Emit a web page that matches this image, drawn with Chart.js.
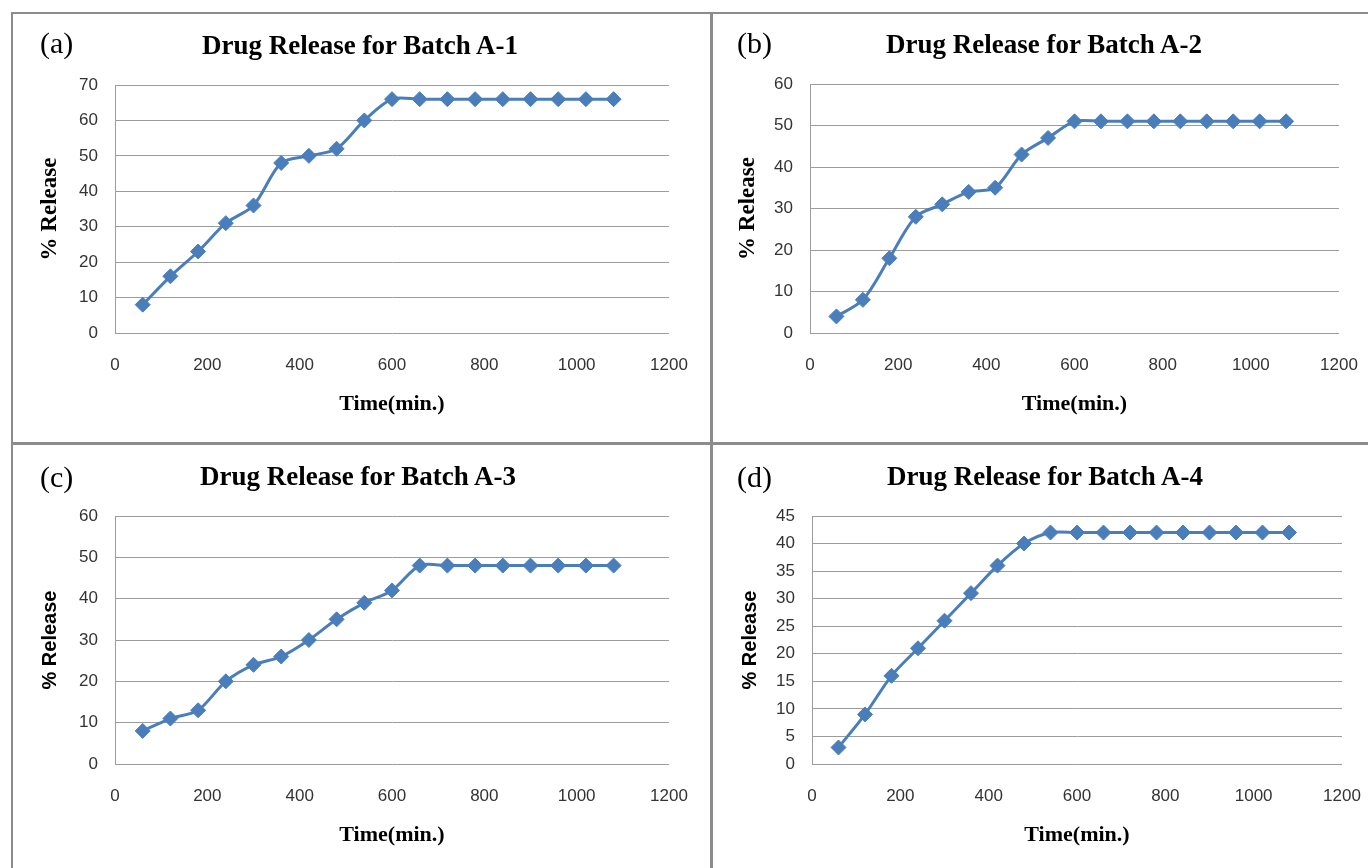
<!DOCTYPE html>
<html>
<head>
<meta charset="utf-8">
<script src="https://cdn.jsdelivr.net/npm/chart.js@4"></script>
<style>
  body { margin: 0; background: #fff; width: 1368px; height: 868px; overflow: hidden; position: relative; }
  .panel { position: absolute; border: 2px solid #8c8c8c; box-sizing: border-box; }
  canvas { position: absolute; }
  .lbl { position: absolute; font-family: "Liberation Serif", serif; font-size: 30px; line-height: 30px; color: #000; }
  .ttl { position: absolute; width: 500px; text-align: center; font-family: "Liberation Serif", serif; font-weight: bold; font-size: 27px; line-height: 27px; color: #000; }
</style>
</head>
<body>
<canvas id="c1" width="698" height="430" style="left:12px;top:12px"></canvas>
<canvas id="c2" width="667" height="430" style="left:713px;top:12px"></canvas>
<canvas id="c3" width="698" height="430" style="left:12px;top:443px"></canvas>
<canvas id="c4" width="670" height="430" style="left:713px;top:443px"></canvas>

<div class="panel" style="left:11px;top:12px;width:701px;height:432px"></div>
<div class="panel" style="left:711px;top:12px;width:659px;height:432px"></div>
<div class="panel" style="left:11px;top:443px;width:701px;height:440px"></div>
<div class="panel" style="left:711px;top:443px;width:659px;height:440px"></div>

<div class="lbl" style="left:40px;top:28px">(a)</div>
<div class="lbl" style="left:737px;top:28px">(b)</div>
<div class="lbl" style="left:40px;top:462px">(c)</div>
<div class="lbl" style="left:737px;top:462px">(d)</div>

<div class="ttl" style="left:110px;top:32px">Drug Release for Batch A-1</div>
<div class="ttl" style="left:794px;top:31px">Drug Release for Batch A-2</div>
<div class="ttl" style="left:108px;top:463px">Drug Release for Batch A-3</div>
<div class="ttl" style="left:795px;top:463px">Drug Release for Batch A-4</div>

<script>
// time points (min.)
const times = [60, 120, 180, 240, 300, 360, 420, 480, 540, 600, 660, 720, 780, 840, 900, 960, 1020, 1080];

// % release per batch
const batchA1 = [8, 16, 23, 31, 36, 48, 50, 52, 60, 66, 66, 66, 66, 66, 66, 66, 66, 66];
const batchA2 = [4, 8, 18, 28, 31, 34, 35, 43, 47, 51, 51, 51, 51, 51, 51, 51, 51, 51];
const batchA3 = [8, 11, 13, 20, 24, 26, 30, 35, 39, 42, 48, 48, 48, 48, 48, 48, 48, 48];
const batchA4 = [3, 9, 16, 21, 26, 31, 36, 40, 42, 42, 42, 42, 42, 42, 42, 42, 42, 42];

const yMaxes = [70, 60, 60, 45];
const ySteps = [10, 10, 10, 5];

const blue = '#4a7ebb';
const gridGray = '#9c9c9c';
const tickFont = { family: 'Liberation Sans', size: 17 };
const serifTitle = { family: 'Liberation Serif', size: 23, weight: 'bold' };
const sansTitle = { family: 'Liberation Sans', size: 20, weight: 'bold' };

function plain(v) { return String(v); }

function makeChart(id, values, yMax, yStep, yTitleFont, g) {
    const ctx = document.getElementById(id).getContext('2d');
    const pts = times.map((t, i) => ({ x: t, y: values[i] }));
    return new Chart(ctx, {
        type: 'line',
        data: {
            datasets: [{
                data: pts,
                borderColor: blue,
                backgroundColor: blue,
                borderWidth: 3,
                tension: 0.3,
                pointStyle: 'rectRot',
                pointRadius: 7.5,
                pointBorderWidth: 1,
                pointBackgroundColor: blue,
                pointBorderColor: blue
            }]
        },
        options: {
            responsive: false,
            animation: false,
            layout: { padding: { top: g.top, right: 41, bottom: 0, left: 0 } },
            plugins: { legend: { display: false }, tooltip: { enabled: false } },
            scales: {
                x: {
                    type: 'linear',
                    min: 0,
                    max: 1200,
                    ticks: { stepSize: 200, padding: 22, color: '#333', font: tickFont, maxRotation: 0, callback: plain },
                    grid: { display: false, drawTicks: false },
                    border: { display: false },
                    title: {
                        display: true,
                        text: 'Time(min.)',
                        color: '#000',
                        font: { family: 'Liberation Serif', size: 22, weight: 'bold' },
                        padding: { top: 0, bottom: 24 }
                    },
                    afterFit: function (scale) { scale.height = g.xh; }
                },
                y: {
                    min: 0,
                    max: yMax,
                    ticks: { stepSize: yStep, padding: 17, color: '#333', font: tickFont, callback: plain },
                    grid: { color: gridGray, lineWidth: 1, drawTicks: false },
                    border: { display: true, color: gridGray, width: 1 },
                    title: {
                        display: true,
                        text: '% Release',
                        color: '#000',
                        font: yTitleFont,
                        padding: { top: g.yt, bottom: 0 }
                    },
                    afterFit: function (scale) { scale.width = g.yw; }
                }
            }
        }
    });
}

makeChart('c1', batchA1, yMaxes[0], ySteps[0], serifTitle, { top: 73, xh: 109, yw: 103, yt: 24 });
makeChart('c2', batchA2, yMaxes[1], ySteps[1], serifTitle, { top: 72, xh: 109, yw: 97, yt: 21 });
makeChart('c3', batchA3, yMaxes[2], ySteps[2], sansTitle, { top: 73, xh: 109, yw: 103, yt: 26 });
makeChart('c4', batchA4, yMaxes[3], ySteps[3], sansTitle, { top: 73, xh: 109, yw: 99, yt: 25 });
</script>
</body>
</html>
